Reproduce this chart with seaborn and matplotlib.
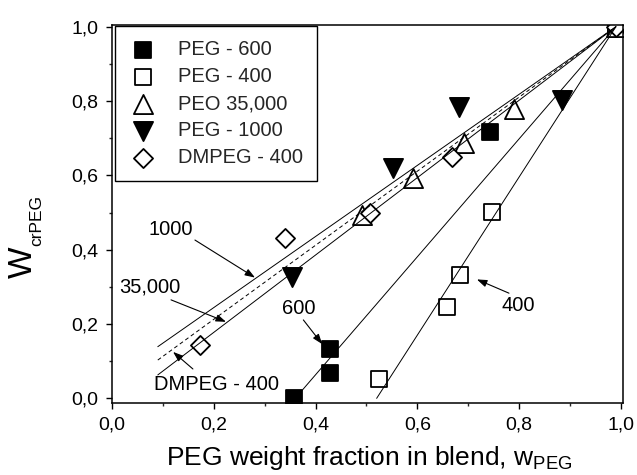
import matplotlib
matplotlib.use("Agg")
import matplotlib.pyplot as plt
import seaborn as sns
import pandas as pd
from matplotlib.ticker import MultipleLocator, FuncFormatter

# ---------------- data ----------------
series_names = ["PEG - 600", "PEG - 400", "PEO 35,000", "PEG - 1000", "DMPEG - 400"]

peg600_x = [0.358, 0.428, 0.428, 0.743, 0.99]
peg600_y = [0.000, 0.067, 0.134, 0.716, 1.00]

peg400_x = [0.525, 0.658, 0.684, 0.747, 0.99]
peg400_y = [0.053, 0.247, 0.332, 0.502, 1.00]

peo35000_x = [0.491, 0.591, 0.691, 0.789, 0.99]
peo35000_y = [0.493, 0.592, 0.688, 0.778, 1.00]

peg1000_x = [0.353, 0.552, 0.681, 0.884, 0.99]
peg1000_y = [0.327, 0.619, 0.785, 0.803, 1.00]

dmpeg400_x = [0.173, 0.340, 0.506, 0.669, 0.99]
dmpeg400_y = [0.143, 0.431, 0.498, 0.650, 1.00]

# fitted / guide lines
line1000_x = [0.09, 0.99]
line1000_y = [0.139, 1.00]
line35000_x = [0.09, 0.99]
line35000_y = [0.103, 1.00]
lineDM_x = [0.09, 0.99]
lineDM_y = [0.063, 1.00]
line600_x = [0.36, 0.99]
line600_y = [0.0, 1.00]
line400_x = [0.52, 0.99]
line400_y = [0.0, 1.00]

x_ticks = [0.0, 0.2, 0.4, 0.6, 0.8, 1.0]
y_ticks = [0.0, 0.2, 0.4, 0.6, 0.8, 1.0]

# ---------------- styling ----------------
sns.set_theme(style="ticks")
plt.rcParams["font.family"] = ["Liberation Sans", "DejaVu Sans"]
plt.rcParams["mathtext.fontset"] = "custom"
plt.rcParams["mathtext.rm"] = "Liberation Sans"
plt.rcParams["mathtext.it"] = "Liberation Sans:italic"
plt.rcParams["mathtext.bf"] = "Liberation Sans:bold"

fig = plt.figure(figsize=(6.37, 4.75), dpi=100)
ax = fig.add_axes([0.1758, 0.152, 0.803, 0.7964])

series = [
    (series_names[0], peg600_x, peg600_y, "s", "black", 145),
    (series_names[1], peg400_x, peg400_y, "s", "white", 145),
    (series_names[2], peo35000_x, peo35000_y, "^", "white", 190),
    (series_names[3], peg1000_x, peg1000_y, "v", "black", 190),
    (series_names[4], dmpeg400_x, dmpeg400_y, "D", "white", 95),
]

for name, xs, ys, mk, fc, sz in series:
    df = pd.DataFrame({"x": xs, "y": ys})
    sns.scatterplot(data=df, x="x", y="y", ax=ax, marker=mk, s=sz,
                    facecolor=fc, edgecolor="black", linewidth=1.3,
                    label=name, zorder=2)

lines = [
    (line1000_x, line1000_y, "-"),
    (line35000_x, line35000_y, (0, (4, 3))),
    (lineDM_x, lineDM_y, "-"),
    (line600_x, line600_y, "-"),
    (line400_x, line400_y, "-"),
]
for lx, ly, ls in lines:
    sns.lineplot(x=lx, y=ly, ax=ax, color="black", linewidth=0.7,
                 linestyle=ls, legend=False, zorder=3, sort=False)

# annotations
arrow_kw = dict(arrowstyle="-|>,head_length=0.5,head_width=0.18",
                color="black", lw=0.8, shrinkA=0, shrinkB=0)
annots = [
    ("1000", (0.116, 0.454), (0.163, 0.426), (0.281, 0.325)),
    ("35,000", (0.074, 0.300), (0.116, 0.265), (0.224, 0.206)),
    ("DMPEG - 400", (0.205, 0.038), (0.159, 0.079), (0.120, 0.125)),
    ("600", (0.366, 0.242), (0.376, 0.211), (0.413, 0.146)),
    ("400", (0.799, 0.251), (0.780, 0.283), (0.717, 0.320)),
]
for txt, tpos, tail, head in annots:
    ax.text(tpos[0], tpos[1], txt, ha="center", va="center",
            fontsize=14.5, color="black", zorder=4)
    ax.annotate("", xy=head, xytext=tail, arrowprops=arrow_kw, zorder=4)

# axes
ax.set_xlim(0.0, 1.005)
ax.set_ylim(-0.012, 1.006)
ax.set_xticks(x_ticks)
ax.set_yticks(y_ticks)
ax.xaxis.set_minor_locator(MultipleLocator(0.1))
ax.yaxis.set_minor_locator(MultipleLocator(0.1))
fmt = FuncFormatter(lambda v, p: f"{v:.1f}".replace(".", ","))
ax.xaxis.set_major_formatter(fmt)
ax.yaxis.set_major_formatter(fmt)
ax.tick_params(which="major", direction="out", length=4.5, width=1.0,
               pad=5.5, labelsize=14, colors="black")
ax.tick_params(which="minor", direction="out", length=2.5, width=1.0)
for sp in ax.spines.values():
    sp.set_visible(True)
    sp.set_linewidth(1.1)
    sp.set_color("black")

ax.set_xlabel(r"PEG weight fraction in blend, w$_{\mathregular{PEG}}$",
              fontsize=19, color="black")
ax.xaxis.set_label_coords(0.503, -0.11)
ax.set_ylabel("")
# y label: large W with small subscript
fig.text(23 / 637, 1 - 262.5 / 475, "W", rotation=90, fontsize=24,
         ha="center", va="center", color="black")
fig.text(37 / 637, 1 - 220 / 475, "crPEG", rotation=90, fontsize=12.5,
         ha="center", va="center", color="black")

leg = ax.legend(loc="upper left", bbox_to_anchor=(0.006, 0.996),
                borderaxespad=0, frameon=True, fancybox=False,
                edgecolor="black", fontsize=14.5, labelspacing=0.4,
                borderpad=0.7, handlelength=1.4, handletextpad=1.03)
leg.get_frame().set_linewidth(1.0)
leg.get_frame().set_alpha(1)

fig.savefig("out.png", dpi=100)
